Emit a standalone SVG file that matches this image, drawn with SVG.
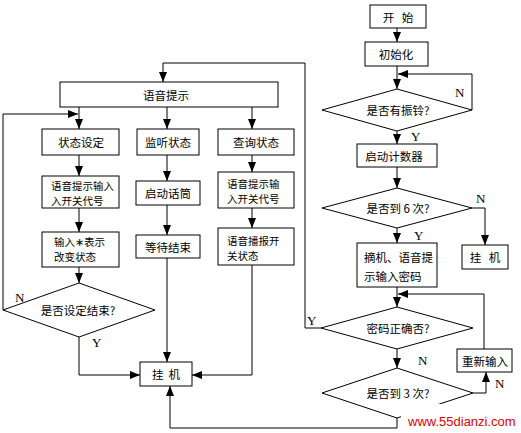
<svg xmlns="http://www.w3.org/2000/svg" width="521" height="433" viewBox="0 0 521 433">
<style>
.b{fill:#fff;stroke:#000;stroke-width:1}
.c{fill:none;stroke:#000;stroke-width:1}
.t{font-family:"Noto Sans CJK SC","Noto Sans",sans-serif;font-size:11.5px;fill:#000;white-space:pre}
.s{font-size:10.5px}
.m{text-anchor:middle;dominant-baseline:central}
.l{font-family:"Liberation Serif",serif;font-size:13px;fill:#000}
</style>
<defs>
<marker id="a" markerUnits="userSpaceOnUse" markerWidth="10" markerHeight="10" viewBox="0 0 10 10" refX="10" refY="5" orient="auto">
<path d="M0,1 L10,5 L0,9 Z" fill="#000"/>
</marker>
</defs>
<rect width="521" height="433" fill="#fff"/>
<g id="connectors">
<path class="c" d="M397,28 V42" marker-end="url(#a)"/>
<path class="c" d="M397,66 V89" marker-end="url(#a)"/>
<path class="c" d="M472,110 V74 H398" marker-end="url(#a)"/>
<path class="c" d="M397,131 V144" marker-end="url(#a)"/>
<path class="c" d="M397,167 V188" marker-end="url(#a)"/>
<path class="c" d="M472,208 H485 V245" marker-end="url(#a)"/>
<path class="c" d="M397,228 V243" marker-end="url(#a)"/>
<path class="c" d="M397,287 V307" marker-end="url(#a)"/>
<path class="c" d="M484,349 V294 H398" marker-end="url(#a)"/>
<path class="c" d="M321,328 H305 V63 H163 V82" marker-end="url(#a)"/>
<path class="c" d="M397,349 V368" marker-end="url(#a)"/>
<path class="c" d="M473,393 H486 V372" marker-end="url(#a)"/>
<path class="c" d="M397,418 V428 H170 V386" marker-end="url(#a)"/>
<path class="c" d="M79,107 V129" marker-end="url(#a)"/>
<path class="c" d="M167,107 V129" marker-end="url(#a)"/>
<path class="c" d="M252,107 V129" marker-end="url(#a)"/>
<path class="c" d="M79,155 V176" marker-end="url(#a)"/>
<path class="c" d="M79,208 V232" marker-end="url(#a)"/>
<path class="c" d="M79,267 V283" marker-end="url(#a)"/>
<path class="c" d="M3,310 V114 H78" marker-end="url(#a)"/>
<path class="c" d="M79,337 V375 H140" marker-end="url(#a)"/>
<path class="c" d="M167,155 V181" marker-end="url(#a)"/>
<path class="c" d="M167,205 V235" marker-end="url(#a)"/>
<path class="c" d="M167,258 V362" marker-end="url(#a)"/>
<path class="c" d="M252,155 V172" marker-end="url(#a)"/>
<path class="c" d="M252,208 V228" marker-end="url(#a)"/>
<path class="c" d="M252,265 V375 H192" marker-end="url(#a)"/>
</g>
<g id="start"><rect class="b" x="370" y="5" width="56" height="23"/><text class="t m" x="398" y="17">开   始</text></g>
<g id="init"><rect class="b" x="365" y="42" width="63" height="24"/><text class="t m" x="396" y="54">初始化</text></g>
<g id="ring"><polygon class="b" points="322,110 397,89 472,110 397,131"/><text class="t m" x="398" y="110">是否有振铃?</text>
<text class="l" x="455" y="97">N</text><text class="l" x="411" y="141">Y</text></g>
<g id="counter"><rect class="b" x="357" y="144" width="80" height="23"/><text class="t m" x="394" y="156">启动计数器</text></g>
<g id="six"><polygon class="b" points="322,208 397,188 472,208 397,228"/><text class="t m" x="398" y="208">是否到 6 次?</text>
<text class="l" x="476" y="203">N</text><text class="l" x="414" y="240">Y</text></g>
<g id="hangR"><rect class="b" x="462" y="245" width="46" height="24"/><text class="t m" x="485" y="257">挂   机</text></g>
<g id="pickup"><rect class="b" x="357" y="243" width="80" height="44"/><text class="t" x="364" y="262">摘机、语音提</text><text class="t" x="364" y="281">示输入密码</text></g>
<g id="pwd"><polygon class="b" points="321,328 397,307 473,328 397,349"/><text class="t m" x="398" y="328">密码正确否?</text>
<text class="l" x="307" y="325">Y</text><text class="l" x="418" y="365">N</text></g>
<g id="retry"><rect class="b" x="457" y="349" width="55" height="23"/><text class="t m" x="485" y="361">重新输入</text></g>
<g id="three"><polygon class="b" points="322,393 397,368 473,393 397,418"/><text class="t m" x="398" y="393">是否到 3 次?</text>
<text class="l" x="495" y="388">N</text></g>
<g id="prompt"><rect class="b" x="60" y="82" width="218" height="25"/><text class="t m" x="166" y="95">语音提示</text></g>
<g id="set"><rect class="b" x="42" y="129" width="77" height="26"/><text class="t m" x="81" y="142">状态设定</text></g>
<g id="listen"><rect class="b" x="137" y="129" width="62" height="26"/><text class="t m" x="168" y="142">监听状态</text></g>
<g id="query"><rect class="b" x="218" y="129" width="76" height="26"/><text class="t m" x="256" y="142">查询状态</text></g>
<g id="inputL"><rect class="b" x="42" y="176" width="77" height="32"/><text class="t s" x="51" y="190">语音提示输入</text><text class="t s" x="51" y="205">入开关代号</text></g>
<g id="mic"><rect class="b" x="136" y="181" width="64" height="24"/><text class="t m" x="168" y="193">启动话筒</text></g>
<g id="inputR"><rect class="b" x="218" y="172" width="76" height="36"/><text class="t s" x="227" y="188">语音提示输</text><text class="t s" x="227" y="203">入开关代号</text></g>
<g id="change"><rect class="b" x="42" y="232" width="77" height="35"/><text class="t s" x="54" y="246">输入∗表示</text><text class="t s" x="54" y="261">改变状态</text></g>
<g id="wait"><rect class="b" x="136" y="235" width="64" height="23"/><text class="t m" x="168" y="247">等待结束</text></g>
<g id="report"><rect class="b" x="218" y="228" width="76" height="37"/><text class="t s" x="227" y="245">语音播报开</text><text class="t s" x="227" y="260">关状态</text></g>
<g id="done"><polygon class="b" points="3,310 79,283 155,310 79,337"/><text class="t m" x="78" y="310">是否设定结束?</text>
<text class="l" x="15" y="302">N</text><text class="l" x="92" y="347">Y</text></g>
<g id="hangL"><rect class="b" x="140" y="362" width="52" height="24"/><text class="t m" x="166" y="374">挂  机</text></g>
<g id="watermark"><rect x="401" y="404" width="120" height="23" fill="#fff"/><text x="408" y="426" font-family="Liberation Sans,Arial,sans-serif" font-size="13" fill="#e00000">www.55dianzi.com</text></g>
</svg>
